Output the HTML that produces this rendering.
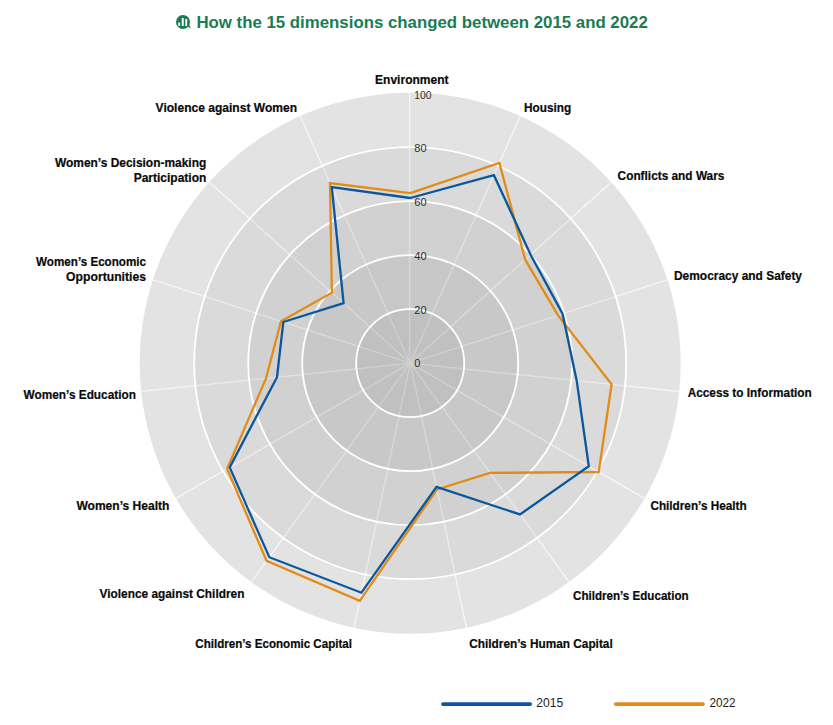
<!DOCTYPE html>
<html><head><meta charset="utf-8"><title>How the 15 dimensions changed between 2015 and 2022</title>
<style>
html,body{margin:0;padding:0;background:#fff;}
body{width:833px;height:725px;overflow:hidden;font-family:"Liberation Sans",sans-serif;}
svg{display:block;}
text{font-family:"Liberation Sans",sans-serif;}
.lab{font-weight:bold;font-size:13.5px;fill:#0a0a0a;stroke:#0a0a0a;stroke-width:0.22px;}
.tick{font-size:11px;fill:#2e2e2e;}
.leg{font-size:12px;fill:#222;}
.title{font-weight:bold;font-size:16px;fill:#1a7c52;}
</style></head><body>
<svg width="833" height="725" viewBox="0 0 833 725">
<rect width="833" height="725" fill="#fff"/>
<circle cx="410.2" cy="363.2" r="270.5" fill="#e3e3e3"/>
<g stroke="#ffffff" stroke-width="1.4" opacity="0.68">
<line x1="409.6" y1="363.2" x2="409.6" y2="93.2"/>
<line x1="410.2" y1="363.2" x2="520.0" y2="116.5"/>
<line x1="410.2" y1="363.2" x2="610.8" y2="182.5"/>
<line x1="410.2" y1="363.2" x2="667.0" y2="279.8"/>
<line x1="410.2" y1="363.2" x2="678.7" y2="391.4"/>
<line x1="410.2" y1="363.2" x2="644.0" y2="498.2"/>
<line x1="410.2" y1="363.2" x2="568.9" y2="581.6"/>
<line x1="410.2" y1="363.2" x2="466.3" y2="627.3"/>
<line x1="410.2" y1="363.2" x2="354.1" y2="627.3"/>
<line x1="410.2" y1="363.2" x2="251.5" y2="581.6"/>
<line x1="410.2" y1="363.2" x2="176.4" y2="498.2"/>
<line x1="410.2" y1="363.2" x2="141.7" y2="391.4"/>
<line x1="410.2" y1="363.2" x2="153.4" y2="279.8"/>
<line x1="410.2" y1="363.2" x2="209.6" y2="182.5"/>
<line x1="410.2" y1="363.2" x2="300.4" y2="116.5"/>
</g>
<circle cx="410.2" cy="363.2" r="216.0" fill="#000" fill-opacity="0.041"/>
<circle cx="410.2" cy="363.2" r="162.0" fill="#000" fill-opacity="0.041"/>
<circle cx="410.2" cy="363.2" r="108.0" fill="#000" fill-opacity="0.041"/>
<circle cx="410.2" cy="363.2" r="54.0" fill="#000" fill-opacity="0.041"/>
<g fill="none" stroke="#fff" stroke-width="1.8">
<circle cx="410.2" cy="363.2" r="54.0"/>
<circle cx="410.2" cy="363.2" r="108.0"/>
<circle cx="410.2" cy="363.2" r="162.0"/>
<circle cx="410.2" cy="363.2" r="216.0"/>
</g>
<text class="tick" x="414.3" y="367.2">0</text>
<text class="tick" x="414.3" y="314.4">20</text>
<text class="tick" x="414.3" y="260.4">40</text>
<text class="tick" x="414.3" y="206.4">60</text>
<text class="tick" x="414.3" y="152.4">80</text>
<text class="tick" x="414.3" y="98.8" textLength="17.3" lengthAdjust="spacingAndGlyphs">100</text>
<polygon points="410.2,193.1 499.4,162.9 525.2,259.7 557.9,315.2 611.6,384.4 598.7,472.0 489.9,472.9 437.0,489.4 359.7,600.9 266.6,560.9 227.1,468.9 266.0,378.4 281.0,321.2 331.9,292.7 330.0,183.1" fill="none" stroke="#e28c18" stroke-width="2.3" stroke-linejoin="miter"/>
<polygon points="410.2,198.0 493.9,175.2 530.6,254.8 562.5,313.7 576.7,380.7 588.8,466.3 520.0,514.4 436.5,486.8 361.4,592.7 269.3,557.2 229.7,467.4 277.0,377.2 283.3,322.0 343.6,303.2 331.8,187.1" fill="none" stroke="#0b579e" stroke-width="2.3" stroke-linejoin="miter"/>
<text class="lab" text-anchor="middle" x="411.8" y="84.0" textLength="73.4" lengthAdjust="spacingAndGlyphs">Environment</text>
<text class="lab" text-anchor="start" x="524.0" y="112.0" textLength="47.2" lengthAdjust="spacingAndGlyphs">Housing</text>
<text class="lab" text-anchor="start" x="617.6" y="180.0" textLength="106.8" lengthAdjust="spacingAndGlyphs">Conflicts and Wars</text>
<text class="lab" text-anchor="start" x="674.0" y="280.0" textLength="128.0" lengthAdjust="spacingAndGlyphs">Democracy and Safety</text>
<text class="lab" text-anchor="start" x="687.7" y="396.8" textLength="124.1" lengthAdjust="spacingAndGlyphs">Access to Information</text>
<text class="lab" text-anchor="start" x="650.4" y="509.5" textLength="96.3" lengthAdjust="spacingAndGlyphs">Children’s Health</text>
<text class="lab" text-anchor="start" x="573.0" y="599.7" textLength="115.6" lengthAdjust="spacingAndGlyphs">Children’s Education</text>
<text class="lab" text-anchor="start" x="469.3" y="647.8" textLength="143.4" lengthAdjust="spacingAndGlyphs">Children’s Human Capital</text>
<text class="lab" text-anchor="end" x="352.0" y="648.3" textLength="156.7" lengthAdjust="spacingAndGlyphs">Children’s Economic Capital</text>
<text class="lab" text-anchor="end" x="244.4" y="598.3" textLength="144.9" lengthAdjust="spacingAndGlyphs">Violence against Children</text>
<text class="lab" text-anchor="end" x="169.4" y="510.0" textLength="93.0" lengthAdjust="spacingAndGlyphs">Women’s Health</text>
<text class="lab" text-anchor="end" x="135.9" y="398.7" textLength="112.3" lengthAdjust="spacingAndGlyphs">Women’s Education</text>
<text class="lab" text-anchor="end" x="146.0" y="265.5" textLength="109.9" lengthAdjust="spacingAndGlyphs">Women’s Economic</text>
<text class="lab" text-anchor="end" x="146.0" y="280.9" textLength="79.9" lengthAdjust="spacingAndGlyphs">Opportunities</text>
<text class="lab" text-anchor="end" x="206.3" y="167.0" textLength="151.4" lengthAdjust="spacingAndGlyphs">Women’s Decision-making</text>
<text class="lab" text-anchor="end" x="206.3" y="182.2" textLength="72.6" lengthAdjust="spacingAndGlyphs">Participation</text>
<text class="lab" text-anchor="end" x="297.0" y="112.2" textLength="141.4" lengthAdjust="spacingAndGlyphs">Violence against Women</text>
<text class="title" x="196.4" y="28.4" textLength="451.4" lengthAdjust="spacingAndGlyphs">How the 15 dimensions changed between 2015 and 2022</text>
<g>
<circle cx="183" cy="22" r="7" fill="#1a7c52"/>
<path d="M187.5 26.5 L191 28.6 L189 24.5 Z" fill="#1a7c52"/>
<rect x="178.3" y="22.5" width="1.8" height="3.5" fill="#fff"/>
<rect x="181.8" y="18" width="1.9" height="8" fill="#fff"/>
<rect x="185.3" y="19" width="1.9" height="7" fill="#fff"/>
</g>
<line x1="443" y1="704.1" x2="530.1" y2="704.1" stroke="#0b579e" stroke-width="3.9" stroke-linecap="round"/>
<text class="leg" x="536.3" y="707.2" textLength="27" lengthAdjust="spacingAndGlyphs">2015</text>
<line x1="615.8" y1="704.1" x2="702.9" y2="704.1" stroke="#e28c18" stroke-width="3.9" stroke-linecap="round"/>
<text class="leg" x="709.4" y="707.2" textLength="26.1" lengthAdjust="spacingAndGlyphs">2022</text>
</svg></body></html>
